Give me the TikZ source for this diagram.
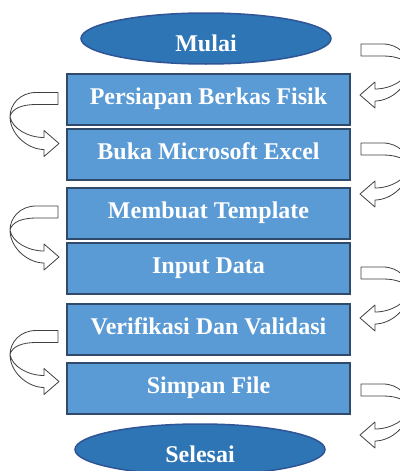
\documentclass[tikz,border=0pt]{standalone}
\usepackage{fontspec}
\setmainfont{Liberation Serif}
\usetikzlibrary{shapes.geometric, calc}
\definecolor{boxblue}{HTML}{5B9BD5}
\definecolor{boxline}{HTML}{2F4A6A}
\definecolor{ovalblue}{HTML}{2E75B6}
\definecolor{ovalline}{HTML}{2F5597}

\begin{document}
\begin{tikzpicture}[x=1pt, y=-1pt,
		tm/.style = {ellipse, draw=ovalline, fill=ovalblue, line width=1.5pt, minimum width=250pt, minimum height=51pt, text=white, font=\bfseries\fontsize{24}{28}\selectfont, text height=26pt, text depth=0pt},
		pr/.style = {rectangle, draw=boxline, fill=boxblue, line width=2pt, minimum width=283pt, minimum height=51pt, text=white, font=\bfseries\fontsize{24}{28}\selectfont, text height=16pt, text depth=6pt},
		turnline/.style = {draw=black!75, fill=white, line width=0.8pt, line join=round},
		turn/.pic = {
			\path[turnline] (0,-6) -- (-22,-6) .. controls (-38,-6) and (-48,6) .. (-48,18)
				.. controls (-48,36) and (-30,51) .. (-14,51) -- (-14,58) -- (1,45) -- (-14,32) -- (-14,39)
				.. controls (-30,39) and (-46,30) .. (-48,18)
				.. controls (-46,10) and (-36,6) .. (-22,6) -- (0,6) -- cycle;
		},
		]
		\useasboundingbox (0,0) rectangle (399,471);
		
		%Nodes
		\node[tm]	(mulai)		at	(206, 38.5)		{Mulai};
		\node[pr]	(b1)		at	(208.5, 99.5)	{Persiapan Berkas Fisik};
		\node[pr]	(b2)		at	(208.5, 154.5)	{Buka Microsoft Excel};
		\node[pr]	(b3)		at	(208.5, 213)	{Membuat Template};
		\node[pr]	(b4)		at	(208.5, 268.5)	{Input Data};
		\node[pr]	(b5)		at	(208.5, 329)	{Verifikasi Dan Validasi};
		\node[pr]	(b6)		at	(208.5, 388.5)	{Simpan File};
		\node[tm]	(selesai)	at	(200, 449.5)	{Selesai};
		
		%Turns
		\pic[xscale=-1]	at	($(b1.east |- mulai.center)+(10,11.5)$)	{turn};
		\pic			at	($(b1.west)+(-8,-1)$)					{turn};
		\pic[xscale=-1]	at	($(b2.east)+(10,-5.5)$)					{turn};
		\pic			at	($(b3.west)+(-8,-1)$)					{turn};
		\pic[xscale=-1]	at	($(b4.east)+(10,4.5)$)					{turn};
		\pic			at	($(b5.west)+(-8,7.5)$)					{turn};
		\pic[xscale=-1]	at	($(b6.east)+(10,1.5)$)					{turn};
	\end{tikzpicture}
\end{document}
